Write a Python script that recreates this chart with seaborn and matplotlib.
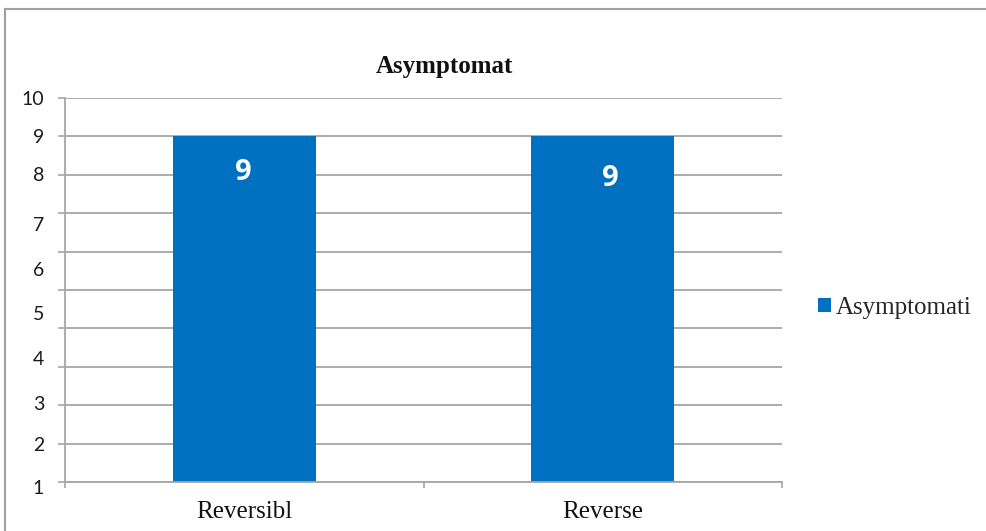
import matplotlib
matplotlib.use("Agg")
import matplotlib.pyplot as plt
import seaborn as sns
import pandas as pd
from matplotlib.patches import Rectangle, Patch

# ---- data ----
categories = ["Reversibl", "Reverse"]
values = [9, 9]
series_name = "Asymptomati"
title = "Asymptomat"
ytick_labels = ["10", "9", "8", "7", "6", "5", "4", "3", "2", "1"]

# ---- style ----
sns.set_theme(style="white")
plt.rcParams['font.family'] = ['Liberation Serif', 'DejaVu Serif']

BAR = "#0070C0"
GRID = "#A6A6A6"

fig = plt.figure(figsize=(9.86, 5.31), dpi=100)
W, H = 986, 531
ax = fig.add_axes([65 / W, 1 - 482 / H, (782 - 65) / W, (482 - 98) / H])

df = pd.DataFrame({"cat": categories, "val": values})
sns.barplot(data=df, x="cat", y="val", color=BAR, saturation=1, width=0.4, ax=ax)
for p in ax.patches:
    p.set_edgecolor("none")

ax.set_xlim(-0.5, len(categories) - 0.5)
ax.set_ylim(0, 10)
ax.set_xlabel("")
ax.set_ylabel("")

# gridlines at each integer, tick marks left
ax.set_yticks(range(0, 11))
ax.set_yticklabels([])
ax.tick_params(axis="y", which="major", length=5, width=1.2, color=GRID, left=True)
ax.grid(axis="y", which="major", color=GRID, lw=1.3)
ax.set_axisbelow(True)

# y labels (rendered offset as in the reference)
label_pos = [9.95, 8.96, 7.97, 6.67, 5.52, 4.375, 3.18, 2.03, 0.94, -0.16]
for lab, yv in zip(ytick_labels, label_pos):
    ax.text(-21 / 717, yv, lab, transform=ax.get_yaxis_transform(),
            ha="right", va="center", fontsize=14, color="#1a1a1a",
            family=["Lato", "DejaVu Sans"])

# x ticks at category boundaries, labels at centres
ax.set_xticks([i - 0.5 for i in range(len(categories) + 1)])
ax.set_xticklabels([""] * (len(categories) + 1))
ax.tick_params(axis="x", which="major", length=4.5, width=1.2, color=GRID, bottom=True)
ax.set_xticks(range(len(categories)), minor=True)
ax.set_xticklabels(categories, minor=True, fontsize=18, color="#111111")
ax.tick_params(axis="x", which="minor", length=0, pad=14)

for s in ["top", "right"]:
    ax.spines[s].set_visible(False)
for s in ["left", "bottom"]:
    ax.spines[s].set_color(GRID)
    ax.spines[s].set_linewidth(1.3)

# data labels
offsets = [(-1, -26), (5.8, -30.5)]
for i, v in enumerate(values):
    ax.annotate(str(v), xy=(i, v), xytext=offsets[i], textcoords="offset points",
                ha="center", va="center", color="white", fontsize=21,
                fontweight="bold", family=["Open Sans", "DejaVu Sans"])

# title
fig.text(444 / W, 1 - 66 / H, title, ha="center", va="center",
         fontsize=18, fontweight="bold", color="#111111")

# legend
handle = Patch(facecolor=BAR, edgecolor="none")
fig.legend(handles=[handle], labels=[series_name], loc="center left",
           bbox_to_anchor=(818 / W, 1 - 308 / H), frameon=False,
           handlelength=0.5, handleheight=0.5, handletextpad=0.22,
           borderpad=0, borderaxespad=0, fontsize=18)

# outer border
fig.patches.append(Rectangle((5 / W, -0.1), 1.2, 1.1 - 9 / H,
                             transform=fig.transFigure, fill=False,
                             edgecolor="#A0A0A0", lw=1.5))

fig.savefig("out.png", dpi=100)
